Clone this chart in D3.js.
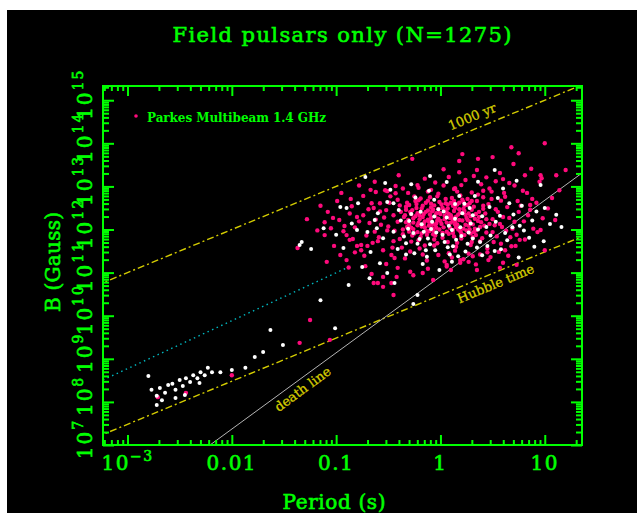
<!DOCTYPE html>
<html lang="en">
<head>
<meta charset="UTF-8">
<title>Field pulsars only</title>
<script src="https://cdn.jsdelivr.net/npm/d3@7"></script>
<style>
  body { margin: 0; background: #fff; }
  svg { display: block; }
</style>
</head>
<body>
<div id="chart"></div>
<script>
// pulsars as [log10 P (s), log10 B (G)]
var pmbPulsars = [
  [-0.41,12.18],[-0.12,12.44],[0.23,11.87],[0.05,12.61],[-0.28,11.72],[0.37,12.29],[-0.07,11.98],[0.14,12.12],
  [-0.33,12.53],[0.29,11.64],[-0.18,12.07],[0.02,11.81],[0.41,12.48],[-0.24,12.31],[0.11,12.73],[-0.02,12.25],
  [0.19,12.39],[-0.36,11.89],[0.33,12.02],[-0.15,11.63],[0.08,12.36],[-0.21,12.68],[0.26,12.57],[-0.04,12.14],
  [0.16,11.69],[-0.31,12.22],[0.44,11.93],[-0.09,12.51],[0.21,12.21],[-0.26,12.01],[0.03,12.05],[0.35,12.66],
  [-0.17,12.29],[0.12,11.92],[-0.38,12.41],[0.27,12.09],[-0.01,12.39],[0.07,11.71],[-0.13,11.88],[0.39,12.17],
  [-0.23,12.59],[0.18,12.47],[-0.06,11.77],[0.31,11.82],[-0.30,12.11],[0.09,12.27],[-0.44,11.97],[0.24,12.34],
  [-0.11,12.18],[0.01,12.58],[0.17,12.00],[-0.19,11.83],[0.43,12.37],[-0.35,12.29],[0.13,12.43],[-0.08,12.03],
  [0.28,12.19],[-0.27,12.45],[0.06,11.95],[-0.03,11.68],[0.34,11.98],[-0.14,12.62],[0.22,12.64],[-0.39,11.78],
  [0.10,12.16],[-0.20,12.24],[0.38,11.73],[0.00,12.20],[-0.25,11.91],[0.15,12.30],[-0.10,12.35],[0.30,12.46],
  [-0.32,12.06],[0.04,12.45],[-0.16,12.13],[0.20,11.79],[-0.05,12.31],[0.42,12.09],[-0.22,12.38],[0.12,12.55],
  [-0.29,12.41],[0.26,12.22],[-0.06,12.56],[0.13,11.84],[-0.21,12.15],[0.32,12.53],[-0.14,11.97],[0.04,12.32],
  [0.21,12.69],[-0.27,11.86],[0.09,12.04],[-0.03,12.21],[0.29,11.91],[-0.18,12.49],[0.16,12.58],[-0.11,12.09],
  [0.37,12.41],[-0.24,12.66],[0.02,11.92],[0.24,12.11],[-0.08,12.42],[0.11,12.27],[-0.33,12.17],[0.19,11.96],
  [-0.01,12.64],[0.33,12.25],[-0.16,12.36],[0.07,12.49],[-0.22,11.94],[0.27,12.37],[-0.04,12.04],[0.14,12.18],
  [-0.30,12.57],[0.22,12.48],[-0.12,12.23],[0.05,12.71],[-0.26,12.26],[0.31,12.12],[-0.07,11.89],[0.17,12.35],
  [-0.19,12.72],[0.01,12.13],[0.25,11.98],[-0.09,12.60],[0.12,11.99],[-0.34,12.33],[0.28,12.61],[-0.02,12.48],
  [0.18,12.22],[-0.15,12.19],[0.06,12.40],[-0.23,12.50],[0.34,11.87],[-0.05,12.11],[0.10,12.62],[-0.28,12.04],
  [0.23,12.43],[-0.10,12.75],[0.15,12.06],[0.00,12.36],
  [-0.32,12.62],[0.36,12.20],[-0.05,11.86],[0.19,12.79],[-0.22,12.10],[0.29,12.31],[-0.12,12.67],[0.08,11.90],
  [0.41,12.55],[-0.28,12.36],[0.13,12.66],[-0.01,12.00],[0.23,12.55],[-0.18,11.91],[0.04,12.24],[0.32,11.94],
  [-0.09,12.27],[0.16,12.12],[-0.36,12.00],[0.26,12.71],[-0.14,12.41],[0.10,12.33],[-0.25,12.77],[0.38,12.06],
  [-0.03,12.77],[0.20,11.91],[-0.17,12.55],[0.06,12.16],[0.44,12.24],[-0.30,11.95],[0.14,12.50],[-0.07,12.46],
  [0.28,12.00],[-0.20,12.33],[0.02,12.50],[0.34,12.36],[-0.11,11.96],[0.18,12.62],[-0.26,12.16],[0.07,12.58],
  [-0.15,12.05],[0.25,12.27],[-0.04,12.38],[0.12,12.20],[-0.33,12.46],[0.30,12.66],[-0.08,12.13],[0.22,12.02],
  [0.47,12.13],[-0.39,12.56],[0.53,12.47],[0.59,12.06],[-0.45,12.33],[0.66,12.27],[0.40,11.80],[-0.21,11.75],
  [0.15,11.60],[-0.06,11.63],[0.30,11.71],[0.50,11.94],
  [-0.62,12.23],[0.55,12.41],[-0.71,11.86],[0.63,11.97],[-0.48,12.77],[0.71,12.18],[-0.55,11.52],[0.49,12.71],
  [-0.82,12.05],[0.84,12.33],[-0.58,12.42],[0.58,11.67],[-0.66,12.61],[0.52,12.10],[-0.51,11.98],[0.77,12.55],
  [-0.76,11.64],[0.61,12.85],[-0.47,11.41],[0.67,11.82],[-0.87,12.37],[0.47,12.95],[-0.53,12.91],[0.89,12.02],
  [-0.68,12.15],[0.56,11.48],[-0.44,11.34],[0.74,12.66],[-0.60,11.73],[0.50,12.24],[0.22,11.31],[-0.13,11.28],
  [0.08,11.45],[0.31,11.38],[-0.29,11.49],[0.16,12.88],[-0.09,12.92],[0.36,12.81],[-0.21,12.97],[0.03,13.02],
  [0.27,11.44],[-0.37,11.58],[0.45,11.56],[0.11,11.35],[-0.02,12.83],[0.41,12.75],[-0.17,11.42],[0.19,11.23],
  [0.34,11.19],[0.06,11.14],[0.46,11.29],[0.57,11.11],[0.65,11.39],[0.72,11.62],[0.81,11.77],[0.93,11.94],
  [0.98,12.26],[1.03,12.49],[0.88,12.71],[0.79,12.90],[0.66,13.08],[0.53,13.12],[0.39,13.05],[0.24,13.15],
  [-0.05,13.09],
  [-0.52,12.45],[0.46,12.59],[-0.57,12.11],[0.54,11.84],[-0.45,11.73],[0.60,12.29],[-0.63,11.95],[0.64,12.52],
  [-0.49,12.62],[0.69,12.02],[-0.74,12.33],[0.51,11.71],[-0.59,11.82],[0.75,12.41],[-0.43,12.84],[0.58,12.67],
  [-0.69,12.47],[0.45,11.47],[-0.54,12.28],[0.80,12.19],[-0.46,11.58],[0.62,12.76],[-0.78,12.19],[0.68,11.61],
  [-0.41,12.69],[0.86,12.46],[-0.65,11.69],[0.49,12.88],[-0.50,12.07],[0.73,11.88],[-0.85,12.54],[0.57,12.13],
  [0.41,12.90],[0.30,12.86],[0.13,12.94],[-0.12,12.88],[-0.36,12.95],[0.20,13.03],[0.44,13.21],[0.60,13.17],
  [0.71,13.02],[0.83,12.85],[0.92,12.62],[1.07,12.73],[0.95,13.11],[1.14,12.91],[0.87,13.41],[0.70,13.52],
  [0.32,13.24],[0.08,13.22],[-0.15,13.18],[-0.40,13.26],
  [0.38,11.42],[0.14,11.51],[-0.02,11.41],[-0.20,11.56],[0.27,11.25],[0.48,11.36],[0.60,11.23],[0.04,11.26],
  [-0.34,11.33],[-0.12,11.09],[0.10,11.06],[0.35,11.06],[-0.52,11.20],[-0.29,11.02],
  [-1.15,12.55],[-0.99,12.66],[-0.86,12.71],[-0.74,12.78],[-1.02,11.62],[-1.18,11.98],[-0.93,11.96],[-0.82,11.47],
  [-0.73,11.39],[-1.28,12.24],[-0.95,12.85],[-0.78,13.02],[-0.63,13.11],[-0.88,11.12],
  [-0.27,13.64],[-0.22,13.03],[-0.67,12.92],[-0.62,12.87],[-0.51,12.89],[-0.43,13.01],[-0.31,12.85],[-1.08,12.41],
  [-1.03,12.27],[-1.11,12.17],[-0.97,12.22],[-1.05,12.03],[-0.92,12.08],[-0.90,11.87],[-1.11,11.87],[-1.37,11.57],
  [-0.96,11.41],[-1.09,11.25],[-0.90,11.29],[-0.76,11.52],[-0.70,11.62],[-0.80,11.62],[-0.84,11.78],[-0.80,12.29],
  [-0.64,12.50],[-0.58,12.61],[-0.66,10.97],[-0.55,10.90],[-0.47,10.76],[-0.60,10.76],[-0.41,11.11],[-0.72,11.15],
  [-0.64,10.76],[1.00,14.00],[0.75,13.77],[0.68,13.91],[0.36,13.64],[0.21,13.75],[0.18,13.59],[0.03,13.40],
  [0.18,13.33],[0.35,13.38],[0.57,13.31],[0.96,13.26],[0.97,13.19],[0.50,13.68],[0.81,13.26],[0.14,12.96],
  [1.11,13.26],[1.20,13.38],
  [-0.45,10.48],[-0.42,10.90],[-0.26,10.94],[-0.07,10.83],[-0.17,10.99],[0.06,11.18],[0.19,11.29],[-0.55,10.67],
  [0.76,11.76],[0.96,11.99],[1.10,12.22],[1.00,11.52],[0.86,12.57],[0.73,11.18],[0.62,11.52],[-0.87,11.76],
  [-2.71,8.11],[-2.44,8.21],[-2.00,8.62],[-1.35,9.37],[-1.06,9.44],[-1.25,9.90]
];

var otherPulsars = [
  [-0.35,11.84],[0.12,11.61],[-0.18,12.12],[0.27,11.93],[-0.05,11.52],[0.06,12.28],[-0.28,12.36],[0.38,11.71],
  [-0.12,11.79],[0.19,12.05],[-0.41,11.55],[0.02,11.88],[0.31,12.33],[-0.22,11.67],[0.09,11.42],[-0.08,12.18],
  [0.44,12.06],[-0.31,12.02],[0.15,11.76],[-0.02,12.47],[0.24,11.49],[-0.16,11.95],[0.35,11.58],[-0.38,12.21],
  [0.04,11.71],[-0.25,11.45],[0.21,12.38],[-0.10,11.66],[0.48,11.86],[0.11,11.99],[-0.33,11.68],[0.29,12.14],
  [-0.04,11.93],[0.17,11.38],[-0.19,12.41],[0.40,12.31],[-0.45,11.95],[0.08,12.09],[0.26,11.67],[-0.13,11.37],
  [0.53,12.18],[0.62,11.92],[0.70,12.35],[0.58,11.54],[0.76,12.09],[0.85,11.81],[0.92,12.42],[0.66,12.61],
  [1.05,12.13],[1.11,12.34],[0.99,11.73],[0.55,12.73],[0.33,12.78],[-0.06,12.69],[-0.24,12.74],[0.14,12.59],
  [-0.30,12.20],[0.20,11.85],[-0.09,12.01],[0.28,12.50],[-0.20,11.78],[0.03,12.42],[0.36,12.00],[-0.40,12.45],
  [0.14,12.25],[-0.14,11.52],[0.45,11.62],[-0.26,11.92],[0.07,11.59],[0.31,11.79],[-0.06,12.30],[0.23,12.60],
  [-0.33,11.42],[0.11,11.25],[-0.01,11.06],[0.40,11.40],[-0.17,11.20],[0.52,11.50],[0.64,11.75],[0.80,11.98],
  [0.88,12.21],[0.69,12.05],[0.57,12.32],[0.78,12.55],[1.00,12.50],[1.16,12.06],[0.47,12.52],[-0.55,11.80],
  [-0.60,12.38],[-0.70,11.94],[-0.67,11.48],[-0.85,12.14],[-1.00,11.88],[-0.58,11.22],[0.18,12.78],[-0.11,12.90],
  [0.60,12.95],[0.36,13.11],[-0.28,13.05],[0.90,11.60],[0.75,11.35],
  [-0.53,13.08],[-0.10,13.24],[0.52,13.38],[0.73,13.13],[0.06,13.10],[-0.72,13.22],[-0.79,12.61],[-0.90,12.50],
  [-0.96,12.52],[-1.12,12.03],[-1.33,11.71],[-1.24,11.55],[-0.93,11.57],[-0.80,11.99],[-0.75,11.13],[-0.88,10.71],
  [-0.68,10.87],[-0.61,12.03],[-0.63,12.22],[-0.51,12.64],[-0.48,12.92],[-0.45,12.61],[-0.51,10.99],[-0.44,10.76],
  [-0.22,10.48],[-0.26,10.27],[0.96,13.03],
  [-1.15,10.36],[-1.35,11.64],[-1.63,9.67],[-1.51,9.32],[-1.78,9.04],[-1.70,9.16],[-1.87,8.79],[-2.00,8.74],
  [-2.11,8.69],[-1.01,9.71],
  [-2.80,8.60],[-2.77,8.28],[-2.72,8.14],[-2.69,8.32],[-2.64,8.21],[-2.61,8.39],[-2.57,8.42],[-2.54,8.28],
  [-2.50,8.51],[-2.47,8.37],[-2.44,8.55],[-2.40,8.46],[-2.37,8.62],[-2.33,8.55],[-2.30,8.69],[-2.26,8.62],
  [-2.23,8.79],[-2.19,8.69],[-2.67,8.04],[-2.54,8.09],[-2.45,8.16],[-2.72,7.93],[-2.31,8.44]
];

// reference lines as two [log10 P, log10 B] end points
var age1000yr = [[-3.3, 10.70], [1.4, 15.40]];
var hubbleTime = [[-3.3, 7.18], [1.4, 11.88]];
var spinUpLine = [[-3.235, 8.51], [-0.88, 11.13]];
var deathLine = [[-2.209, 7.0], [1.357, 13.31]];

var periodTicks = [0.001, 0.01, 0.1, 1, 10];
var periodTickLabels = [["10", "\u22123"], ["0.01", ""], ["0.1", ""], ["1", ""], ["10", ""]];
var fieldTickExps = [7, 8, 9, 10, 11, 12, 13, 14, 15];

var green = "#00ff00";
var yellow = "#d4cc00";
var pink = "#ff0a7c";
var serif = "'DejaVu Serif', 'Liberation Serif', serif";

var W = 637, H = 513;
var frame = {left: 103, top: 86, right: 582, bottom: 445};

var svg = d3.select("#chart").append("svg")
    .attr("width", W)
    .attr("height", H);

// black picture area with the thin white border on top / left
svg.append("rect").attr("width", W).attr("height", H).attr("fill", "#fff");
svg.append("rect")
    .attr("x", 7).attr("y", 10)
    .attr("width", W - 7).attr("height", H - 10)
    .attr("fill", "#000");

var x = d3.scaleLog()
    .domain([Math.pow(10, -3.235), Math.pow(10, 1.357)])
    .range([frame.left, frame.right]);

var y = d3.scaleLog()
    .domain([1e7, Math.pow(10, 15.33)])
    .range([frame.bottom, frame.top]);

function px(d) { return x(Math.pow(10, d[0])); }
function py(d) { return y(Math.pow(10, d[1])); }

svg.append("clipPath").attr("id", "plotclip")
  .append("rect")
    .attr("x", frame.left).attr("y", frame.top)
    .attr("width", frame.right - frame.left)
    .attr("height", frame.bottom - frame.top);

var plot = svg.append("g").attr("clip-path", "url(#plotclip)");

var line = d3.line().x(px).y(py);

plot.append("path").datum(age1000yr)
    .attr("d", line).attr("fill", "none")
    .attr("stroke", yellow).attr("stroke-width", 1.4)
    .attr("stroke-dasharray", "7,3,2,3");

plot.append("path").datum(hubbleTime)
    .attr("d", line).attr("fill", "none")
    .attr("stroke", yellow).attr("stroke-width", 1.4)
    .attr("stroke-dasharray", "7,3,2,3");

plot.append("path").datum(spinUpLine)
    .attr("d", line).attr("fill", "none")
    .attr("stroke", "#00b8c0").attr("stroke-width", 1.4)
    .attr("stroke-dasharray", "1.5,3.5");

plot.append("path").datum(deathLine)
    .attr("d", line).attr("fill", "none")
    .attr("stroke", "#b4b4b4").attr("stroke-width", 1);

// pulsars
plot.append("g").selectAll("circle")
    .data(pmbPulsars)
    .enter().append("circle")
      .attr("cx", px).attr("cy", py)
      .attr("r", 2.2).attr("fill", pink);

plot.append("g").selectAll("circle")
    .data(otherPulsars)
    .enter().append("circle")
      .attr("cx", px).attr("cy", py)
      .attr("r", 2).attr("fill", "#fff");

// line labels, rotated along their lines
function lineLabel(pts, logP, text, offset) {
    var a = pts[0], b = pts[1];
    var ang = Math.atan2(py(b) - py(a), px(b) - px(a)) * 180 / Math.PI;
    var t = (logP - a[0]) / (b[0] - a[0]);
    var p = [logP, a[1] + t * (b[1] - a[1])];
    svg.append("text")
        .attr("transform", "translate(" + px(p) + "," + py(p) + ") rotate(" + ang + ")")
        .attr("dy", offset)
        .attr("text-anchor", "middle")
        .attr("font-family", serif)
        .attr("font-size", 13)
        .attr("fill", yellow)
        .attr("stroke", yellow).attr("stroke-width", 0.3)
        .text(text);
}
lineLabel(age1000yr, 0.35, "1000 yr", -8);
lineLabel(hubbleTime, 0.49, "Hubble time", 15);
lineLabel(deathLine, -1.375, "death line", 14);

// axes: ticks on all four sides, pointing inward
function isDecade(v) {
    var l = Math.log10(v);
    return Math.abs(l - Math.round(l)) < 1e-6;
}
var xMajor = x.ticks().filter(isDecade);
var xMinor = x.ticks().filter(function (v) { return !isDecade(v); });
var yMajor = y.ticks().filter(isDecade);
var yMinor = y.ticks().filter(function (v) { return !isDecade(v); });

function styleAxis(g) {
    g.select(".domain").remove();
    g.selectAll("line").attr("stroke", green).attr("stroke-width", 2);
    g.selectAll("text").remove();
}

[[xMajor, 10], [xMinor, 5]].forEach(function (s) {
    svg.append("g").attr("transform", "translate(0," + frame.bottom + ")")
        .call(d3.axisBottom(x).tickValues(s[0]).tickSize(-s[1])).call(styleAxis);
    svg.append("g").attr("transform", "translate(0," + frame.top + ")")
        .call(d3.axisTop(x).tickValues(s[0]).tickSize(-s[1])).call(styleAxis);
});
[[yMajor, 11], [yMinor, 6]].forEach(function (s) {
    svg.append("g").attr("transform", "translate(" + frame.left + ",0)")
        .call(d3.axisLeft(y).tickValues(s[0]).tickSize(-s[1])).call(styleAxis);
    svg.append("g").attr("transform", "translate(" + frame.right + ",0)")
        .call(d3.axisRight(y).tickValues(s[0]).tickSize(-s[1])).call(styleAxis);
});

svg.append("rect")
    .attr("x", frame.left).attr("y", frame.top)
    .attr("width", frame.right - frame.left)
    .attr("height", frame.bottom - frame.top)
    .attr("fill", "none")
    .attr("stroke", green).attr("stroke-width", 2);

// x tick labels
periodTicks.forEach(function (v, i) {
    var t = svg.append("text")
        .attr("x", x(v)).attr("y", 470)
        .attr("text-anchor", "middle")
        .attr("font-family", serif)
        .attr("font-size", 20)
        .attr("letter-spacing", 1.5)
        .attr("fill", green)
        .attr("stroke", green).attr("stroke-width", 0.6);
    t.append("tspan").text(periodTickLabels[i][0]);
    if (periodTickLabels[i][1]) {
        t.append("tspan").attr("dy", -9).attr("font-size", 14)
            .text(periodTickLabels[i][1]);
    }
});

// y tick labels, rotated
fieldTickExps.forEach(function (e) {
    var t = svg.append("text")
        .attr("transform", "translate(92," + (y(Math.pow(10, e)) - 6) + ") rotate(-90)")
        .attr("text-anchor", "middle")
        .attr("font-family", serif)
        .attr("font-size", 20)
        .attr("letter-spacing", 2)
        .attr("fill", green)
        .attr("stroke", green).attr("stroke-width", 0.6);
    t.append("tspan").text("10");
    t.append("tspan").attr("dy", -9).attr("font-size", 14).text(e);
});

// titles
svg.append("text")
    .attr("x", 342).attr("y", 42)
    .attr("text-anchor", "middle")
    .attr("font-family", serif)
    .attr("font-size", 21)
    .attr("textLength", 339)
    .attr("fill", green)
    .attr("stroke", green).attr("stroke-width", 0.6)
    .text("Field pulsars only (N=1275)");

svg.append("text")
    .attr("x", 334).attr("y", 509)
    .attr("text-anchor", "middle")
    .attr("font-family", serif)
    .attr("font-size", 20)
    .attr("textLength", 103)
    .attr("fill", green)
    .attr("stroke", green).attr("stroke-width", 0.6)
    .text("Period (s)");

svg.append("text")
    .attr("transform", "translate(60,262) rotate(-90)")
    .attr("text-anchor", "middle")
    .attr("font-family", serif)
    .attr("font-size", 20)
    .attr("textLength", 100)
    .attr("fill", green)
    .attr("stroke", green).attr("stroke-width", 0.6)
    .text("B (Gauss)");

// legend
svg.append("circle")
    .attr("cx", 136).attr("cy", 116).attr("r", 1.8)
    .attr("fill", pink);
svg.append("text")
    .attr("x", 147).attr("y", 122)
    .attr("font-family", serif)
    .attr("font-size", 12)
    .attr("font-weight", "bold")
    .attr("textLength", 179)
    .attr("fill", green)
    .text("Parkes Multibeam 1.4 GHz");
</script>
</body>
</html>
